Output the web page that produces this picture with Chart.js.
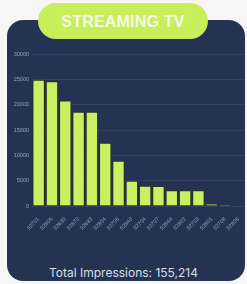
<!DOCTYPE html>
<html>
<head>
<meta charset="utf-8">
<script src="https://cdn.jsdelivr.net/npm/chart.js@4"></script>
<style>
  html, body { margin:0; padding:0; width:247px; height:284px; background:#f6f6f6; overflow:hidden; }
  #card { position:absolute; left:7px; top:20px; width:238px; height:261px; background:#253352; border-radius:16px; }
  #pill { position:absolute; left:38px; top:3px; width:170px; height:36px; border-radius:18px; background:#c7ef5c;
          color:#f4fbe6; font-family:"Liberation Sans", Arial, sans-serif; font-weight:bold; font-size:16px;
          line-height:37px; text-align:center; letter-spacing:0.2px; }
  #wrap { position:absolute; left:0; top:40px; width:247px; height:190px; }
  #total { position:absolute; left:0; width:247px; top:265px; text-align:center; color:#d9dde6;
           font-family:"Inter", "Liberation Sans", sans-serif; font-size:12px; }
</style>
</head>
<body>
<div id="card"></div>
<div id="pill">STREAMING TV</div>
<div id="wrap"><canvas id="c"></canvas></div>
<div id="total">Total Impressions: 155,214</div>
<script>
const categories = ["92701","92805","92630","92870","92683","92804","92706","92840","92704","92707","92844","92802","92703","92801","92708","92806"];
const impressions = [24900,24600,20800,18600,18600,12500,8950,5000,4000,3950,3100,3100,3100,500,300,50];
const yTicks = [0,5000,10000,15000,20000,25000,30000];

new Chart(document.getElementById('c'), {
  type: 'bar',
  data: {
    labels: categories,
    datasets: [{
      data: impressions,
      backgroundColor: '#c8f060',
      borderColor: 'rgba(40,48,30,0.95)',
      borderWidth: 1,
      categoryPercentage: 1.0,
      barPercentage: 0.93
    }]
  },
  options: {
    responsive: true,
    maintainAspectRatio: false,
    animation: false,
    layout: { padding: { top: 14, right: 2, left: 0, bottom: 0 } },
    plugins: { legend: { display: false }, tooltip: { enabled: false } },
    scales: {
      y: {
        min: 0, max: 30000,
        afterBuildTicks: (s) => { s.ticks = yTicks.map(v => ({ value: v })); },
        afterFit: (s) => { s.width = 32; },
        ticks: { color: '#9aa2b6', font: { size: 5.5, family: 'Liberation Sans' }, padding: 3,
                 callback: (v) => String(v) },
        grid: { color: 'rgba(255,255,255,0.07)', drawTicks: false },
        border: { display: false }
      },
      x: {
        afterFit: (s) => { s.height = 24; },
        ticks: { color: '#9aa2b6', font: { size: 5.5, family: 'Liberation Sans' }, minRotation: 45, maxRotation: 45, padding: 2, autoSkip: false },
        grid: { display: false },
        border: { display: false }
      }
    }
  }
});
</script>
</body>
</html>
